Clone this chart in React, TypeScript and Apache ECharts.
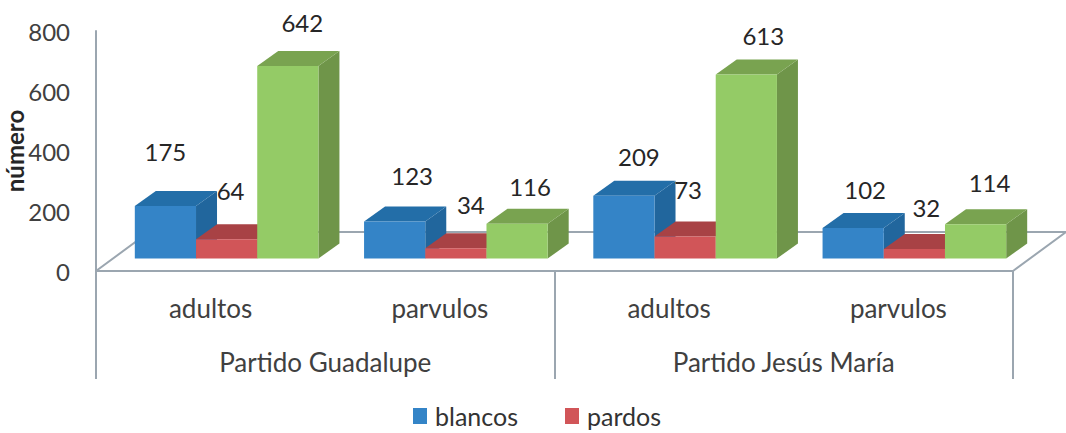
import React, { useEffect, useRef } from "react";
import * as echarts from "echarts";

const subCategories = ["adultos", "parvulos", "adultos", "parvulos"];
const groups = ["Partido Guadalupe", "Partido Jesús María"];
const blancos = [175, 123, 209, 102];
const pardos = [64, 34, 73, 32];
const tercera = [642, 116, 613, 114];
const yTicks = { min: 0, max: 800, interval: 200 };

// Hand-placed label nudges from the reference (relative to the top of each bar's front face)
const blancosLabelNudge = [[0, -55], [17.5, -46], [15, -39], [12, -38]];
const pardosLabelNudge = [[4, -49], [15, -44], [3, -47], [12, -41]];
const terceraLabelNudge = [[14.5, -43], [13, -37], [17, -39], [14, -42]];

const FONT = "Lato, 'Open Sans', sans-serif";
const FONT_SIZE = 24;
const CATEGORY_FONT_SIZE = 26;
const AXIS_COLOR = "#9ba6b0";
const DEPTH_X = 21;
const DEPTH_Y = -15;
const BASE_LIFT = 12.5;
const GROUP_SHIFT = 16;
const BAR_RATIO = 0.267;

function bar3d(seriesPos: number, colors: { front: string; top: string; side: string }, nudges: number[][]) {
  return (params: any, api: any) => {
    const i = api.value(0);
    const v = api.value(1);
    const slot = api.size([1, 0])[0];
    const w = slot * BAR_RATIO;
    const [cx, y0] = api.coord([i, 0]);
    const [, yv] = api.coord([i, v]);
    const x = cx + GROUP_SHIFT + (seriesPos - 1.5) * w;
    const bottom = y0 - BASE_LIFT;
    const top = yv - BASE_LIFT;
    const [nx, ny] = nudges[params.dataIndex];
    return {
      type: "group",
      children: [
        { type: "polygon", shape: { points: [[x + w, top], [x + w + DEPTH_X, top + DEPTH_Y], [x + w + DEPTH_X, bottom + DEPTH_Y], [x + w, bottom]] }, style: { fill: colors.side } },
        { type: "polygon", shape: { points: [[x, top], [x + DEPTH_X, top + DEPTH_Y], [x + w + DEPTH_X, top + DEPTH_Y], [x + w, top]] }, style: { fill: colors.top } },
        { type: "rect", shape: { x, y: top, width: w, height: bottom - top }, style: { fill: colors.front } },
        { type: "text", z2: 50, style: { text: String(v), x: x + w / 2 + nx, y: top + ny, align: "center", verticalAlign: "middle", fill: "#262626", font: `${FONT_SIZE}px ${FONT}` } },
      ],
    };
  };
}

function floor(params: any, api: any) {
  const c = params.coordSys;
  const l = c.x;
  const r = c.x + c.width;
  const b = c.y + c.height;
  return {
    type: "polyline",
    shape: { points: [[l, b], [l + 53, b - 39], [r + 53, b - 39], [r, b]] },
    style: { fill: "none", stroke: AXIS_COLOR, lineWidth: 2 },
  };
}

const COLORS = {
  blue: { front: "#3484c7", top: "#236ea8", side: "#21669d" },
  red: { front: "#d15558", top: "#a84245", side: "#a84245" },
  green: { front: "#94cb66", top: "#79a350", side: "#6f9549" },
};

export default function App() {
  const ref = useRef<HTMLDivElement>(null);
  useEffect(() => {
    const chart = echarts.init(ref.current!, null, { renderer: "svg" });
    const toData = (vals: number[]) => vals.map((v, i) => [i, v]);
    chart.setOption({
      animation: false,
      backgroundColor: "#ffffff",
      textStyle: { fontFamily: FONT },
      grid: { left: 96, right: 53, top: 31, bottom: 162, containLabel: false, outerBoundsMode: "none" },
      legend: {
        left: 413,
        top: 403,
        padding: 0,
        itemWidth: 14,
        itemHeight: 16,
        itemGap: 47,
        icon: "rect",
        data: ["blancos", "pardos"],
        textStyle: { fontSize: 25, lineHeight: 20, padding: [6, 0, 0, 3], color: "#333", fontFamily: FONT },
      },
      xAxis: [
        {
          type: "category",
          data: subCategories,
          position: "bottom",
          axisLine: { show: true, lineStyle: { color: AXIS_COLOR, width: 2 } },
          axisTick: { show: false },
          axisLabel: { interval: 0, margin: 24, fontSize: CATEGORY_FONT_SIZE, color: "#404040", fontFamily: FONT },
        },
        {
          type: "category",
          data: groups,
          position: "bottom",
          axisLine: { show: false },
          axisTick: { show: true, length: 108, lineStyle: { color: AXIS_COLOR, width: 2 } },
          axisLabel: { interval: 0, margin: 78, fontSize: CATEGORY_FONT_SIZE, color: "#404040", fontFamily: FONT },
        },
      ],
      yAxis: {
        type: "value",
        min: yTicks.min,
        max: yTicks.max,
        interval: yTicks.interval,
        name: "número",
        nameLocation: "middle",
        nameRotate: 90,
        nameGap: 70,
        nameMoveOverlap: false,
        nameTextStyle: { fontSize: 24, fontWeight: "bold", color: "#262626", fontFamily: FONT },
        axisLine: { show: true, lineStyle: { color: AXIS_COLOR, width: 2 } },
        axisTick: { show: false },
        splitLine: { show: false },
        axisLabel: { margin: 26, fontSize: FONT_SIZE, color: "#404040", fontFamily: FONT },
      },
      series: [
        { type: "custom", name: "piso", silent: true, z: 1, data: [[0, 0]], renderItem: floor, encode: { x: 0, y: 1 } },
        { type: "custom", name: "blancos", z: 2, itemStyle: { color: COLORS.blue.front }, data: toData(blancos), renderItem: bar3d(0, COLORS.blue, blancosLabelNudge), encode: { x: 0, y: 1 } },
        { type: "custom", name: "pardos", z: 3, itemStyle: { color: COLORS.red.front }, data: toData(pardos), renderItem: bar3d(1, COLORS.red, pardosLabelNudge), encode: { x: 0, y: 1 } },
        { type: "custom", name: "tercera", z: 4, itemStyle: { color: COLORS.green.front }, data: toData(tercera), renderItem: bar3d(2, COLORS.green, terceraLabelNudge), encode: { x: 0, y: 1 } },
      ],
    });
    return () => chart.dispose();
  }, []);
  return <div ref={ref} style={{ position: "absolute", left: 0, top: 0, width: 1066, height: 433 }} />;
}
